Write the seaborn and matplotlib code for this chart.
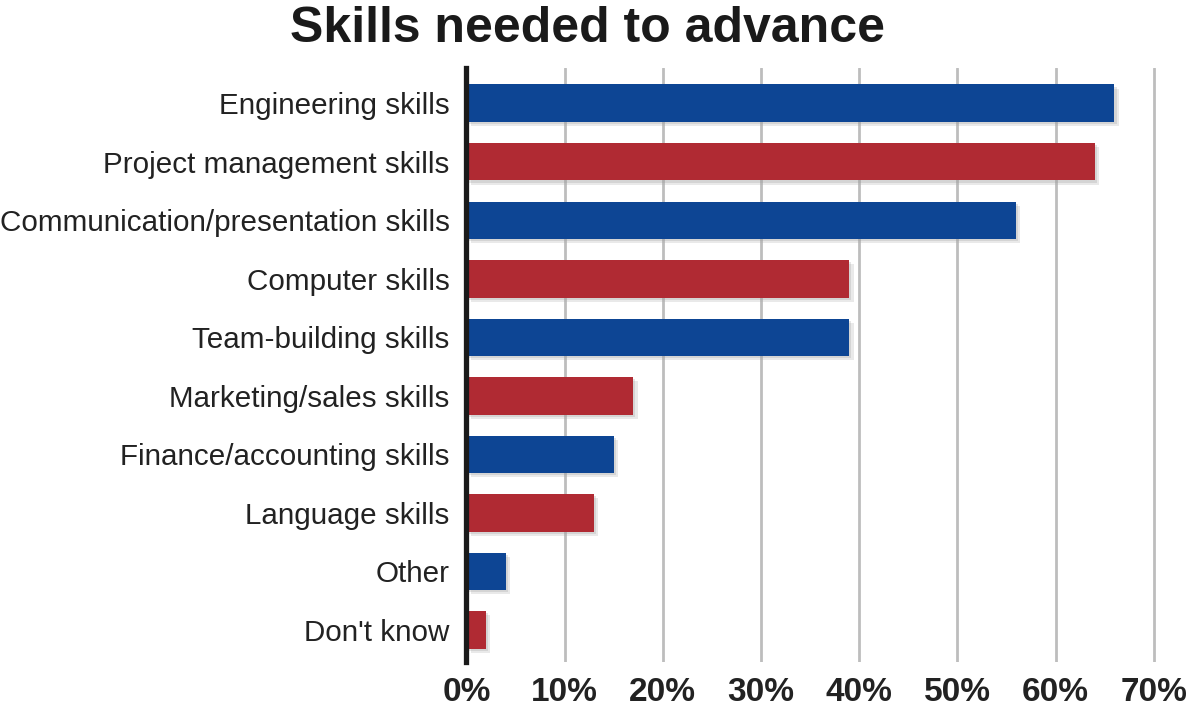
import pandas as pd
import numpy as np
import matplotlib
matplotlib.use("Agg")
import matplotlib.pyplot as plt
import matplotlib.patheffects as pe
import seaborn as sns


# Data

skills = [
    "Engineering skills",
    "Project management skills",
    "Communication/presentation skills",
    "Computer skills",
    "Team-building skills",
    "Marketing/sales skills",
    "Finance/accounting skills",
    "Language skills",
    "Other",
    "Don't know",
]
percent = [66, 64, 56, 39, 39, 17, 15, 13, 4, 2]
tick_values = [0, 10, 20, 30, 40, 50, 60, 70]
tick_labels = ["0%", "10%", "20%", "30%", "40%", "50%", "60%", "70%"]

blue = "#0d4594"
red = "#b02a33"
bar_colors = [blue if i % 2 == 0 else red for i in range(len(skills))]

df = pd.DataFrame({"skill": skills, "percent": percent})


# Plot

sns.set_style("white")
plt.rcParams["font.family"] = ["Liberation Sans", "DejaVu Sans"]

fig = plt.figure(figsize=(11.9, 7.09), dpi=100)
ax = fig.add_axes([0.392, 0.066, 0.580, 0.838])

sns.barplot(
    data=df,
    x="percent",
    y="skill",
    hue="skill",
    palette=bar_colors,
    legend=False,
    width=0.64,
    saturation=1,
    ax=ax,
    zorder=3,
)

# soft drop shadow on the bars
for bar in ax.patches:
    bar.set_edgecolor("none")
    bar.set_path_effects([
        pe.SimplePatchShadow(offset=(3, -3), shadow_rgbFace="#aaaaaa", alpha=0.25),
        pe.SimplePatchShadow(offset=(1.5, -1.5), shadow_rgbFace="#999999", alpha=0.25),
        pe.Normal(),
    ])

ax.set_xlim(0, 70.3)
ax.set_ylim(9.55, -0.6)
ax.set_xticks(tick_values)
ax.set_xticklabels(tick_labels, fontsize=24, fontweight="bold", color="#222222")
ax.tick_params(axis="y", labelsize=21.3, colors="#222222", pad=12, length=0)
ax.tick_params(axis="x", length=0, pad=11)

ax.grid(axis="x", color="#bdbdbd", linewidth=2, zorder=0)
ax.grid(axis="y", visible=False)
ax.set_axisbelow(True)

for side in ["top", "right", "bottom"]:
    ax.spines[side].set_visible(False)
ax.spines["left"].set_color("#1a1a1a")
ax.spines["left"].set_linewidth(3.8)
ax.spines["left"].set_zorder(5)

ax.set_xlabel("")
ax.set_ylabel("")

fig.suptitle("Skills needed to advance", x=0.494, y=0.992, fontsize=36,
             fontweight="bold", color="#1a1a1a")

plt.savefig("out.png", dpi=100)
